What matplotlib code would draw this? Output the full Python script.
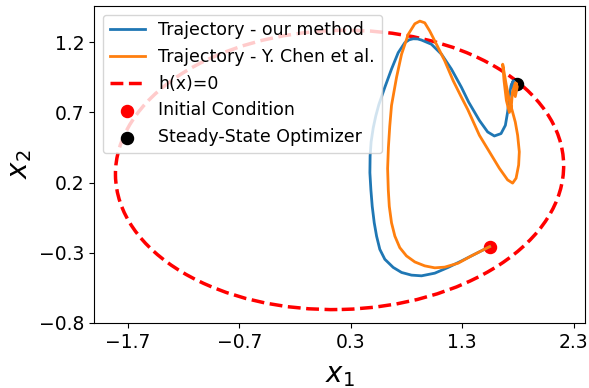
import numpy as np
import matplotlib
matplotlib.use("Agg")
import matplotlib.pyplot as plt
from matplotlib.patches import Ellipse
from matplotlib.lines import Line2D

# trajectory of our method (x1, x2)
ours_x1 = [1.546, 1.412, 1.293, 1.174, 1.054, 0.935, 0.845, 0.756, 0.681, 0.606,
           0.561, 0.532, 0.511, 0.493, 0.481, 0.472, 0.474, 0.483, 0.502, 0.525,
           0.552, 0.606, 0.666, 0.726, 0.785, 0.825, 0.860, 0.900, 0.935, 1.024,
           1.114, 1.203, 1.293, 1.358, 1.454, 1.528, 1.588, 1.648, 1.687, 1.707,
           1.723, 1.738, 1.758, 1.776, 1.761, 1.745, 1.766]
ours_x2 = [-0.257, -0.311, -0.359, -0.405, -0.446, -0.465, -0.460, -0.441, -0.405, -0.347,
           -0.276, -0.182, -0.087, 0.030, 0.148, 0.270, 0.390, 0.490, 0.590, 0.675,
           0.755, 0.879, 1.009, 1.126, 1.197, 1.218, 1.225, 1.224, 1.216, 1.186,
           1.115, 1.009, 0.879, 0.773, 0.643, 0.561, 0.532, 0.549, 0.608, 0.702,
           0.820, 0.891, 0.926, 0.903, 0.868, 0.898, 0.919]

# trajectory of Y. Chen et al.
chen_x1 = [1.546, 1.382, 1.263, 1.143, 1.054, 0.964, 0.875, 0.800, 0.740, 0.696,
           0.666, 0.646, 0.637, 0.631, 0.638, 0.650, 0.666, 0.711, 0.756, 0.816,
           0.875, 0.920, 0.964, 1.009, 1.069, 1.143, 1.219, 1.293, 1.350, 1.454,
           1.544, 1.633, 1.707, 1.752, 1.783, 1.806, 1.812, 1.797, 1.776, 1.752,
           1.723, 1.696, 1.663, 1.675, 1.696, 1.723, 1.741, 1.750, 1.776, 1.794,
           1.776, 1.758, 1.785]
chen_x2 = [-0.257, -0.323, -0.375, -0.403, -0.408, -0.394, -0.366, -0.323, -0.264, -0.182,
           -0.087, 0.030, 0.148, 0.300, 0.450, 0.600, 0.750, 0.950, 1.115, 1.257,
           1.332, 1.351, 1.339, 1.280, 1.186, 1.068, 0.926, 0.808, 0.720, 0.537,
           0.419, 0.302, 0.219, 0.196, 0.231, 0.325, 0.419, 0.537, 0.631, 0.702,
           0.785, 0.891, 1.044, 0.926, 0.785, 0.700, 0.750, 0.842, 0.912, 0.884,
           0.813, 0.855, 0.905]

# h(x)=0 boundary (ellipse)
h_center = (0.2, 0.29)
h_width = 4.02
h_height = 1.99
h_angle = 1.1

x0 = [1.546, -0.257]
x_star = [1.795, 0.903]

xticks = [-1.7, -0.7, 0.3, 1.3, 2.3]
yticks = [-0.8, -0.3, 0.2, 0.7, 1.2]

fig = plt.figure(figsize=(5.89, 3.88), dpi=100)
ax = fig.add_axes([0.160, 0.168, 0.833, 0.817])

ax.plot(ours_x1, ours_x2, color="tab:blue", lw=2, label="Trajectory - our method")
ax.plot(chen_x1, chen_x2, color="tab:orange", lw=2, label="Trajectory - Y. Chen et al.")
ell = Ellipse(h_center, h_width, h_height, angle=h_angle, fill=False,
              edgecolor="red", linestyle="--", lw=2.5)
ax.add_patch(ell)
ax.scatter([x0[0]], [x0[1]], color="red", s=75, label="Initial Condition")
ax.scatter([x_star[0]], [x_star[1]], color="black", s=75, label="Steady-State Optimizer")

handles, labels = ax.get_legend_handles_labels()
h_line = Line2D([], [], color="red", linestyle="--", lw=2.5)
handles = handles[:2] + [h_line] + handles[2:]
labels = labels[:2] + ["h(x)=0"] + labels[2:]
ax.legend(handles, labels, loc="upper left", fontsize=12.5)

ax.set_xlim(-2.0, 2.4)
ax.set_ylim(-0.8, 1.46)
ax.set_xticks(xticks)
ax.set_yticks(yticks)
ax.tick_params(labelsize=13.5)
ax.set_xlabel("$x_1$", fontsize=20, labelpad=7)
ax.set_ylabel("$x_2$", fontsize=20)

fig.savefig("out.png", dpi=100)
